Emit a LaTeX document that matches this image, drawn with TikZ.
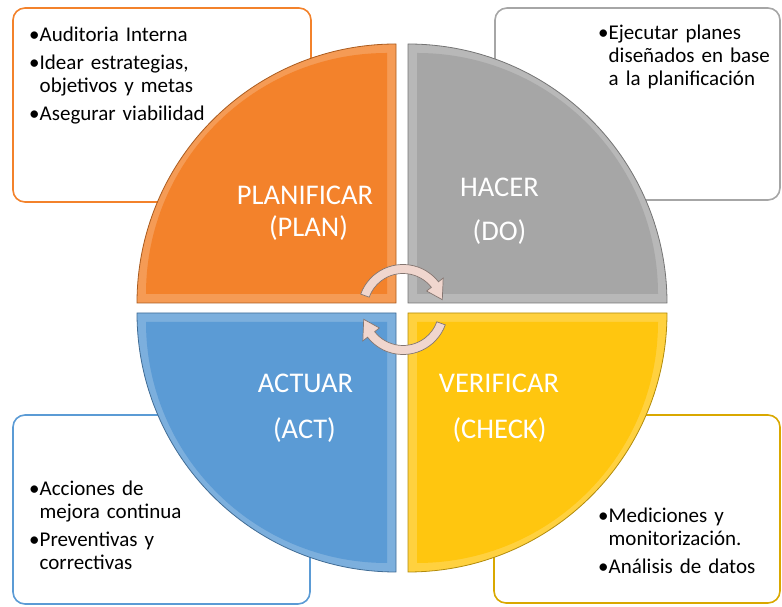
\documentclass[tikz,border=0pt]{standalone}
\usepackage{fontspec}
\setmainfont{Carlito}
\definecolor{naranja}{HTML}{F3822B}
\definecolor{gris}{HTML}{A6A6A6}
\definecolor{azul}{HTML}{5B9BD5}
\definecolor{amarillo}{HTML}{FFC60F}
\definecolor{dorado}{HTML}{D9A800}
\definecolor{rosa}{HTML}{F0D6CE}
\newcommand\itm{\par\hangindent=10.5pt\hangafter=1\noindent\strut\makebox[10.5pt][l]{\textbullet}}
\begin{document}
\begin{tikzpicture}[x=1pt,y=1pt,
  caja/.style={draw=#1, line width=1.6pt, rounded corners=12pt, fill=white},
  quad/.style={draw=#1!70!black, line width=.8pt, fill=#1!80!white},
  lista/.style={anchor=north west, inner sep=0pt, text width=270pt, align=left,
    font={\fontsize{21}{23}\selectfont\setlength{\parskip}{5pt}}},
  titulo/.style={anchor=base, inner sep=0pt, text=white, font=\fontsize{28.5}{34}\selectfont},
  flecha/.style={fill=rosa, draw=rosa!55!black, line width=.7pt}]
\useasboundingbox (0,0) rectangle (782,607);
% cajas de texto
\draw[caja=naranja] (13,599) rectangle (311,405);
\draw[caja=gris] (495,599) rectangle (780,407);
\draw[caja=azul] (13,192) rectangle (310,3);
\draw[caja=dorado] (494,192) rectangle (780,4);
% cuadrantes
\filldraw[quad=naranja] (396,304) -- (137,304) arc[start angle=180,end angle=90,radius=259] -- cycle;
\fill[naranja] (387,313) -- (146,313) arc[start angle=180,end angle=90,radius=241] -- cycle;
\filldraw[quad=gris] (408,304) -- (408,563) arc[start angle=90,end angle=0,radius=259] -- cycle;
\fill[gris] (417,313) -- (417,554) arc[start angle=90,end angle=0,radius=241] -- cycle;
\filldraw[quad=azul] (396,294) -- (137,294) arc[start angle=180,end angle=270,radius=259] -- cycle;
\fill[azul] (387,285) -- (146,285) arc[start angle=180,end angle=270,radius=241] -- cycle;
\filldraw[quad=amarillo] (408,294) -- (667,294) arc[start angle=0,end angle=-90,radius=259] -- cycle;
\fill[amarillo] (417,285) -- (658,285) arc[start angle=0,end angle=-90,radius=241] -- cycle;
% flechas circulares
\begin{scope}[shift={(403,297.5)}]
\filldraw[flecha] (160:45) arc[start angle=160,end angle=38,radius=45] -- (38:51)
  -- (14:40.5) -- (38:30) -- (38:36) arc[start angle=38,end angle=160,radius=36] -- cycle;
\filldraw[flecha] (-20:45) arc[start angle=-20,end angle=-142,radius=45] -- (-142:51)
  -- (-166:40.5) -- (-142:30) -- (-142:36) arc[start angle=-142,end angle=-20,radius=36] -- cycle;
\end{scope}
% titulos
\node[titulo] (planificar) at (305,402) {PLANIFICAR};
\node[titulo] (plan) at (308.5,370) {(PLAN)};
\node[titulo] (hacer) at (499.5,410) {HACER};
\node[titulo] (do) at (499.5,366) {(DO)};
\node[titulo] (actuar) at (305.5,214) {ACTUAR};
\node[titulo] (act) at (304.5,168) {(ACT)};
\node[titulo] (verificar) at (499,214) {VERIFICAR};
\node[titulo] (check) at (499.5,168) {(CHECK)};
% listas
\node[lista] (lplan) at (29,594) {\itm Auditoria Interna
  \itm Idear estrategias,\newline objetivos y metas
  \itm Asegurar viabilidad\par};
\node[lista] (lhacer) at (598,596) {\itm Ejecutar planes\newline diseñados en base\newline a la planificación\par};
\node[lista] (lactuar) at (29,140) {\itm Acciones de\newline mejora continua
  \itm Preventivas y\newline correctivas\par};
\node[lista] (lverificar) at (598,113) {\itm Mediciones y\newline monitorización.
  \itm Análisis de datos\par};
\end{tikzpicture}
\end{document}
